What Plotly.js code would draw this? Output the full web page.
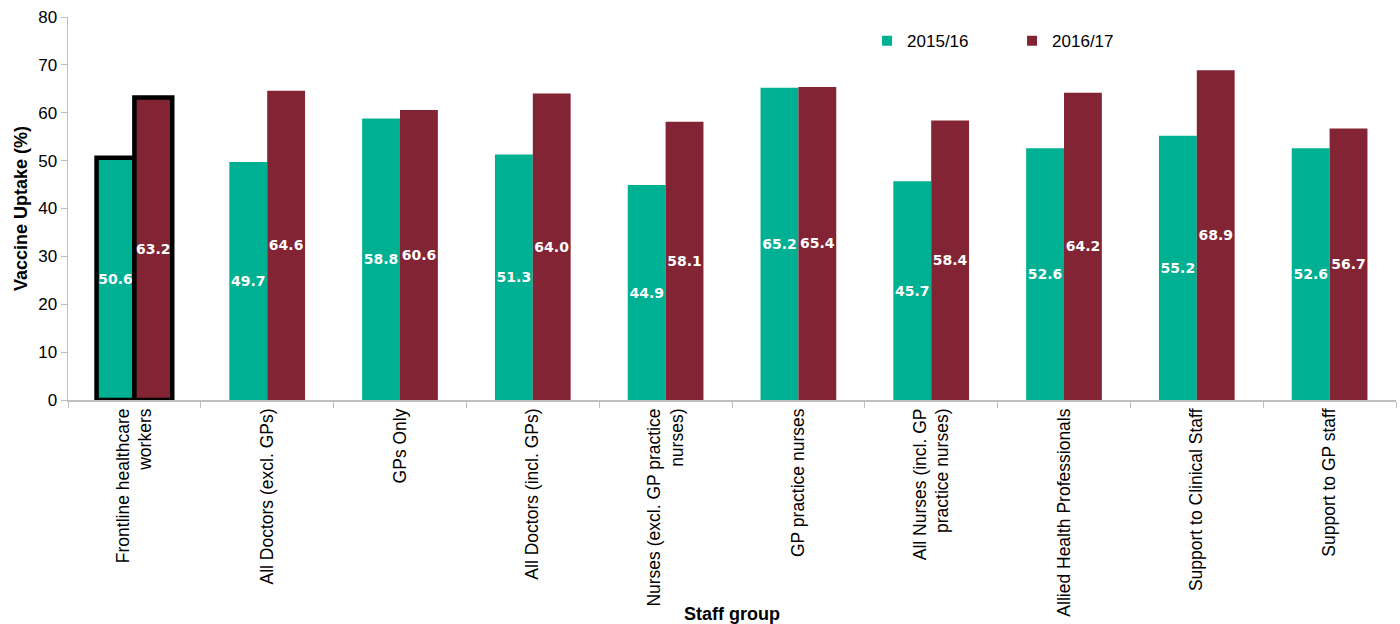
<!DOCTYPE html>
<html>
<head>
<meta charset="utf-8">
<script src="https://cdn.plot.ly/plotly-3.0.1.min.js"></script>
<style>html,body{margin:0;padding:0;background:#fff;}#chart{width:1400px;height:624px;}</style>
</head>
<body>
<div id="chart"></div>
<script>
const categories = [
  "Frontline healthcare<br>workers",
  "All Doctors (excl. GPs)",
  "GPs Only",
  "All Doctors (incl. GPs)",
  "Nurses (excl. GP practice<br>nurses)",
  "GP practice nurses",
  "All Nurses (incl. GP<br>practice nurses)",
  "Allied Health Professionals",
  "Support to Clinical Staff",
  "Support to GP staff"
];
const series1Name = "2015/16";
const series2Name = "2016/17";
const uptake2015 = [50.6, 49.7, 58.8, 51.3, 44.9, 65.2, 45.7, 52.6, 55.2, 52.6];
const uptake2016 = [63.2, 64.6, 60.6, 64.0, 58.1, 65.4, 58.4, 64.2, 68.9, 56.7];
const yTicks = [0, 10, 20, 30, 40, 50, 60, 70, 80];

const color1 = "#00b092";
const color2 = "#822434";
const outlineWidths = categories.map((c, i) => i === 0 ? 4.5 : 0);
const labelFont = {family: "DejaVu Sans", size: 14, color: "#ffffff", weight: "bold"};
const baseFont = "Liberation Sans, Arial, sans-serif";

const traces = [
  {
    type: "bar", name: series1Name, x: categories, y: uptake2015, showlegend: false,
    marker: {color: color1, line: {color: "#000000", width: outlineWidths}},
    text: uptake2015.map(v => v.toFixed(1)), textposition: "inside",
    insidetextanchor: "middle", textangle: 0, textfont: labelFont, constraintext: "none"
  },
  {
    type: "bar", name: series2Name, x: categories, y: uptake2016, showlegend: false,
    marker: {color: color2, line: {color: "#000000", width: outlineWidths}},
    text: uptake2016.map(v => v.toFixed(1)), textposition: "inside",
    insidetextanchor: "middle", textangle: 0, textfont: labelFont, constraintext: "none"
  },
  {
    type: "scatter", mode: "markers", name: series1Name, x: [null], y: [null],
    marker: {symbol: "square", size: 10, color: color1}, showlegend: true
  },
  {
    type: "scatter", mode: "markers", name: series2Name, x: [null], y: [null],
    marker: {symbol: "square", size: 10, color: color2}, showlegend: true
  }
];

const layout = {
  width: 1400, height: 624,
  margin: {l: 68, r: 4, t: 17, b: 224},
  paper_bgcolor: "#ffffff", plot_bgcolor: "#ffffff",
  font: {family: baseFont, color: "#000000", size: 16},
  barmode: "group", bargap: 0.43, bargroupgap: 0,
  showlegend: true,
  legend: {
    orientation: "h", x: 0.6017, y: 0.937, xanchor: "left", yanchor: "middle",
    font: {size: 17, family: baseFont},
    entrywidth: 100, entrywidthmode: "pixels", itemwidth: 30,
    bgcolor: "rgba(0,0,0,0)", traceorder: "normal"
  },
  xaxis: {
    type: "category", tickangle: -90, showgrid: false, zeroline: false,
    showline: true, linecolor: "#bfbfbf", linewidth: 1.5,
    ticks: "outside", tickson: "boundaries", ticklen: 6, tickcolor: "#bfbfbf",
    tickfont: {size: 17.5, family: baseFont},
    automargin: false,
    title: {text: "<b>Staff group</b>", font: {size: 18, family: baseFont}, standoff: 6}
  },
  yaxis: {
    range: [0, 80], tickvals: yTicks, showgrid: false, zeroline: false,
    showline: true, linecolor: "#bfbfbf", linewidth: 1.5,
    ticks: "outside", ticklen: 6, tickcolor: "#bfbfbf",
    tickfont: {size: 17, family: baseFont},
    automargin: false,
    title: {text: "<b>Vaccine Uptake (%)</b>", font: {size: 18, family: baseFont}, standoff: 6}
  }
};

Plotly.newPlot("chart", traces, layout, {displayModeBar: false, staticPlot: true});
</script>
</body>
</html>
